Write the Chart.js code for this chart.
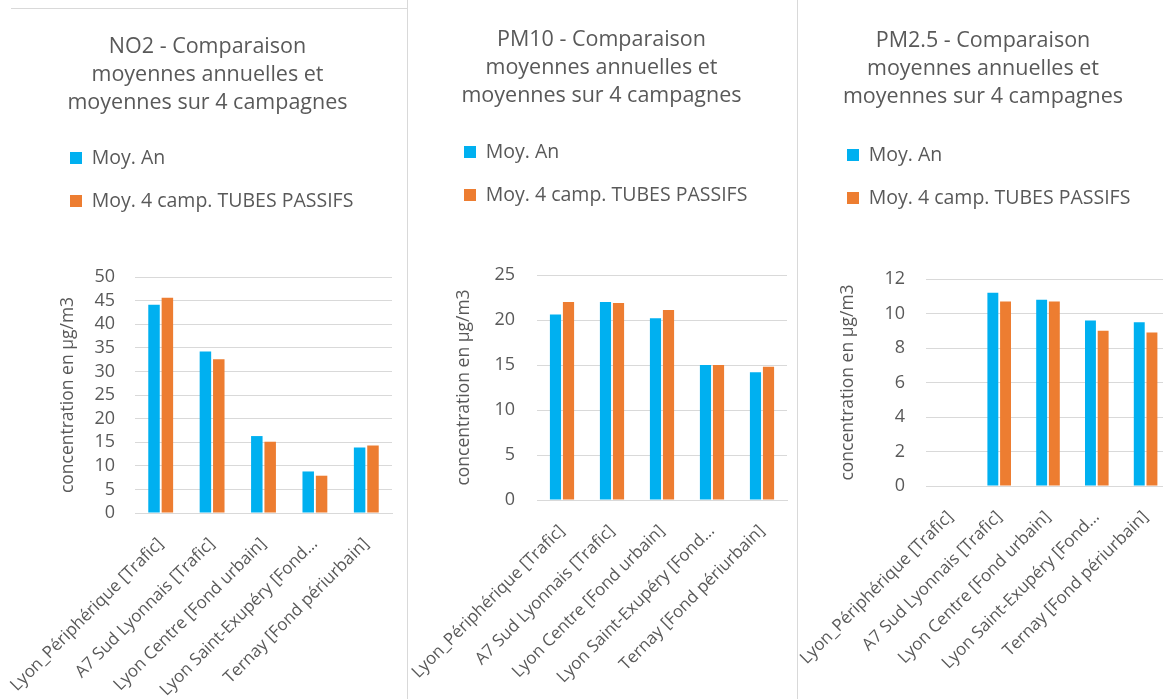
<!DOCTYPE html>
<html lang="fr">
<head>
<meta charset="utf-8">
<title>Comparaison moyennes annuelles et moyennes sur 4 campagnes</title>
<script src="https://cdn.jsdelivr.net/npm/chart.js@4.4.1/dist/chart.umd.min.js"></script>
<style>
  html, body { margin: 0; padding: 0; background: #ffffff; width: 1163px; height: 699px; overflow: hidden; position: relative; }
  .panel { position: absolute; top: 0; height: 699px; }
  .rule { position: absolute; background: #d9d9d9; }
</style>
</head>
<body>
<div class="rule" style="left:11px;top:8px;width:397px;height:1px"></div>
<div class="rule" style="left:407px;top:0;width:1px;height:699px"></div>
<div class="rule" style="left:797px;top:0;width:1px;height:699px"></div>
<div class="panel" style="left:0;width:407px"><canvas id="chartNO2"></canvas></div>
<div class="panel" style="left:408px;width:389px"><canvas id="chartPM10"></canvas></div>
<div class="panel" style="left:798px;width:382px"><canvas id="chartPM25"></canvas></div>
<script>
// Stations (categories)
const stations = [
  'Lyon_Périphérique [Trafic]',
  'A7 Sud Lyonnais [Trafic]',
  'Lyon Centre [Fond urbain]',
  'Lyon Saint-Exupéry [Fond…',
  'Ternay [Fond périurbain]'
];
const seriesNames = ['Moy. An', 'Moy. 4 camp. TUBES PASSIFS'];

// NO2 (µg/m3)
const no2Title = ['NO2 - Comparaison', 'moyennes annuelles et', 'moyennes sur 4 campagnes'];
const no2Annual = [44.1, 34.2, 16.3, 8.8, 13.9];
const no2Campaigns = [45.6, 32.6, 15.1, 7.9, 14.3];
const no2Ticks = [0, 5, 10, 15, 20, 25, 30, 35, 40, 45, 50];

// PM10 (µg/m3)
const pm10Title = ['PM10 - Comparaison', 'moyennes annuelles et', 'moyennes sur 4 campagnes'];
const pm10Annual = [20.6, 22.0, 20.2, 15.0, 14.2];
const pm10Campaigns = [22.0, 21.9, 21.1, 15.0, 14.8];
const pm10Ticks = [0, 5, 10, 15, 20, 25];

// PM2.5 (µg/m3) — no measurement at the first station
const pm25Title = ['PM2.5 - Comparaison', 'moyennes annuelles et', 'moyennes sur 4 campagnes'];
const pm25Annual = [null, 11.2, 10.8, 9.6, 9.5];
const pm25Campaigns = [null, 10.7, 10.7, 9.0, 8.9];
const pm25Ticks = [0, 2, 4, 6, 8, 10, 12];

const yAxisTitle = 'concentration en µg/m3';

Chart.defaults.font.family = "'Open Sans', 'Liberation Sans', sans-serif";
Chart.defaults.color = '#595959';

const TEXT = '#595959';
const GRID = '#d9d9d9';
const BLUE = '#00B0F0';
const ORANGE = '#ED7D31';

const TITLE_SIZE = 21.5, TITLE_LH = 28;
const LEGEND_SIZE = 19.5, LEGEND_PAD = 23.5, LEGEND_BOX = 12;
const LEGEND_H = 2 * (LEGEND_SIZE + LEGEND_PAD) + 10;
const AXIS_TITLE_SIZE = 17.5, AXIS_TITLE_LH = 21;
const CANVAS_H = 699;

// Places the title block and the stacked legend inside each panel.
const panelPlacement = {
  id: 'panelPlacement',
  afterLayout(chart, args, opts) {
    const t = chart.titleBlock;
    if (t) { t.left = opts.titleCenter - 190; t.right = opts.titleCenter + 190; }
    const lg = chart.legend;
    if (lg) {
      lg.left = opts.legendX - LEGEND_PAD;
      lg.top = opts.legendRow1 - LEGEND_PAD - LEGEND_SIZE / 2;
    }
  }
};

function buildChart(id, geo, titleLines, annual, campaigns, ticks) {
  const padLeft = geo.yTitleCenter - AXIS_TITLE_LH / 2;
  const titleBottomPad = geo.plotTop - (geo.titleTop + titleLines.length * TITLE_LH) - LEGEND_H;
  return new Chart(document.getElementById(id), {
    type: 'bar',
    data: {
      labels: stations,
      datasets: [
        { label: seriesNames[0], data: annual, backgroundColor: BLUE },
        { label: seriesNames[1], data: campaigns, backgroundColor: ORANGE }
      ]
    },
    plugins: [panelPlacement],
    options: {
      responsive: true,
      maintainAspectRatio: false,
      animation: false,
      events: [],
      datasets: { bar: { categoryPercentage: 0.52, barPercentage: 0.86, borderWidth: 0 } },
      layout: { padding: { left: padLeft, right: geo.width - geo.plotRight, top: 0, bottom: 0 } },
      plugins: {
        panelPlacement: { titleCenter: geo.titleCenter, legendX: geo.legendX, legendRow1: geo.legendRow1 },
        title: {
          display: true,
          text: titleLines,
          color: TEXT,
          font: { size: TITLE_SIZE, weight: 'normal', lineHeight: TITLE_LH / TITLE_SIZE },
          padding: { top: geo.titleTop, bottom: titleBottomPad }
        },
        legend: {
          display: true,
          position: 'top',
          align: 'start',
          labels: {
            color: TEXT,
            font: { size: LEGEND_SIZE },
            boxWidth: LEGEND_BOX,
            boxHeight: LEGEND_BOX,
            padding: LEGEND_PAD
          }
        },
        tooltip: { enabled: false }
      },
      scales: {
        x: {
          grid: { display: false },
          border: { display: true, color: GRID },
          ticks: {
            color: TEXT,
            font: { size: 17 },
            minRotation: 45,
            maxRotation: 45,
            autoSkip: false,
            padding: 13
          },
          afterFit(scale) {
            scale.height = CANVAS_H - geo.plotBottom;
            scale.paddingLeft = 0;
            scale.paddingRight = 0;
          }
        },
        y: {
          min: ticks[0],
          max: ticks[ticks.length - 1],
          afterBuildTicks(scale) { scale.ticks = ticks.map(v => ({ value: v })); },
          grid: { color: GRID, lineWidth: 1, drawTicks: false },
          border: { display: false },
          ticks: { color: TEXT, font: { size: 18 }, padding: geo.tickGap, autoSkip: false },
          title: {
            display: true,
            text: yAxisTitle,
            color: TEXT,
            font: { size: AXIS_TITLE_SIZE, lineHeight: AXIS_TITLE_LH / AXIS_TITLE_SIZE },
            padding: { top: 0, bottom: 0 }
          },
          afterFit(scale) {
            scale.width = geo.plotLeft - padLeft;
            scale.paddingTop = 0;
            scale.paddingBottom = 0;
          }
        }
      }
    }
  });
}

// Panel geometry in each canvas' own pixel space
buildChart('chartNO2', {
  width: 407, plotLeft: 135, plotRight: 392, plotTop: 277, plotBottom: 513,
  titleCenter: 207.5, titleTop: 33, legendX: 70, legendRow1: 158, yTitleCenter: 68, tickGap: 20
}, no2Title, no2Annual, no2Campaigns, no2Ticks);

buildChart('chartPM10', {
  width: 389, plotLeft: 129, plotRight: 379, plotTop: 275, plotBottom: 500,
  titleCenter: 193.5, titleTop: 26, legendX: 56, legendRow1: 152, yTitleCenter: 56, tickGap: 22
}, pm10Title, pm10Annual, pm10Campaigns, pm10Ticks);

buildChart('chartPM25', {
  width: 382, plotLeft: 128, plotRight: 372, plotTop: 279, plotBottom: 486,
  titleCenter: 185, titleTop: 27, legendX: 49, legendRow1: 155, yTitleCenter: 50, tickGap: 21
}, pm25Title, pm25Annual, pm25Campaigns, pm25Ticks);
</script>
</body>
</html>
